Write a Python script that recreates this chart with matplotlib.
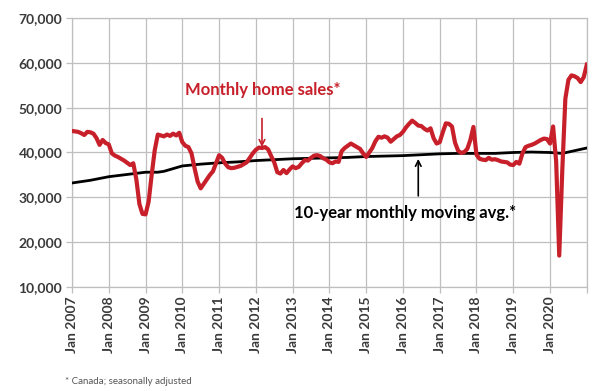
import matplotlib.pyplot as plt

# Monthly home sales (Canada, SA), Jan 2007 onwards, in thousands
sales = [44.8, 44.7, 44.6, 44.3, 43.9, 44.6, 44.5, 44.2, 43.2, 41.7, 42.8, 42.1,
         41.8, 39.8, 39.3, 39.0, 38.6, 38.2, 37.7, 37.2, 37.6, 34.0, 28.5, 26.3,
         26.2, 29.0, 35.0, 40.5, 44.0, 43.8, 43.6, 44.0, 43.7, 44.2, 43.8, 44.4,
         42.3, 41.5, 41.2, 39.8, 36.5, 33.5, 32.0, 33.0, 34.0, 35.0, 35.8, 37.6,
         39.4, 38.8, 37.5, 36.7, 36.5, 36.6, 36.8, 37.0, 37.4, 37.8, 38.8, 39.8,
         40.6, 41.1, 41.0, 41.2, 40.7, 39.2, 37.8, 35.6, 35.3, 36.1, 35.4, 36.2,
         36.9, 36.5, 36.8, 37.6, 38.3, 38.2, 38.8, 39.3, 39.4, 39.2, 38.7, 38.4,
         37.8, 37.6, 38.0, 37.9, 40.3, 41.0, 41.5, 42.0, 41.6, 41.2, 40.8, 39.8,
         39.0, 40.0, 41.0, 42.5, 43.5, 43.3, 43.6, 43.3, 42.4, 43.0, 43.6, 43.9,
         44.6, 45.6, 46.4, 47.1, 46.6, 46.0, 45.9, 45.3, 44.9, 45.4, 43.2, 42.0,
         42.3, 44.5, 46.5, 46.4, 45.8, 42.2, 40.4, 39.9, 40.1, 40.8, 42.8, 45.7,
         39.5, 38.6, 38.4, 38.3, 38.8, 38.4, 38.5, 38.3, 38.0, 37.9, 37.8, 37.3,
         37.2, 37.9, 37.5, 39.8, 41.2, 41.5, 41.7, 42.0, 42.4, 42.8, 43.1, 43.0,
         42.0, 45.8, 38.0, 17.0, 36.0, 52.0, 56.2, 57.2, 57.0, 56.6, 55.7, 56.8,
         59.6]

# 10-year monthly moving average, read at selected months
avg_months = [0, 6, 12, 18, 24, 28, 30, 36, 42, 48, 54, 60, 66, 72, 78, 84, 90,
              96, 102, 108, 114, 120, 126, 132, 138, 144, 150, 156, 160, 168]
avg_values = [33.2, 33.8, 34.6, 35.1, 35.6, 35.6, 35.8, 37.0, 37.4, 37.7, 37.9,
              38.2, 38.4, 38.6, 38.7, 38.8, 38.9, 39.1, 39.2, 39.3, 39.5, 39.7,
              39.8, 39.8, 39.8, 40.0, 40.1, 40.0, 39.8, 41.0]

years = list(range(2007, 2021))
tick_labels = ["Jan %d" % y for y in years]
y_ticks = [10000, 20000, 30000, 40000, 50000, 60000, 70000]

red = "#c8202a"
grid_col = "#bfbfbf"
label_col = "#3a3a3a"
font = "Lato"

fig = plt.figure(figsize=(6, 3.91), dpi=100)
ax = fig.add_axes([0.12, 0.266, 0.858, 0.688])

months = list(range(len(sales)))
ax.plot(avg_months, [v * 1000 for v in avg_values], color="black", lw=2, zorder=3)
ax.plot(months, [v * 1000 for v in sales], color=red, lw=3, zorder=4,
        solid_joinstyle="round")

ax.set_xlim(0, 168)
ax.set_ylim(10000, 70000)
ax.set_xticks([12 * i for i in range(len(years))] + [168])
ax.set_xticklabels(tick_labels + [""], rotation=90, fontsize=10,
                   fontweight="bold", family=font, color=label_col)
ax.set_yticks(y_ticks)
ax.set_yticklabels(["{:,}".format(v) for v in y_ticks], fontsize=10,
                   fontweight="bold", family=font, color=label_col)
ax.grid(True, color=grid_col, lw=0.9)
ax.set_axisbelow(True)
for s in ax.spines.values():
    s.set_color(grid_col)
    s.set_linewidth(0.9)
ax.tick_params(color=grid_col, length=4, width=0.9, pad=3)

# annotations
ax.text(36.8, 53900, "Monthly home sales*", color=red, fontsize=12,
        fontweight="bold", family=font, va="center", ha="left")
ax.annotate("", xy=(62.0, 40600), xytext=(62.0, 48200),
            arrowprops=dict(arrowstyle="->", color=red, lw=1.2))
ax.text(72.6, 26500, "10-year monthly moving avg.*", color="black", fontsize=12,
        fontweight="bold", family=font, va="center", ha="left")
ax.annotate("", xy=(113.0, 39200), xytext=(113.0, 29700),
            arrowprops=dict(arrowstyle="->", color="black", lw=1.2))

fig.text(65 / 600, 1 - 382 / 391, "* Canada; seasonally adjusted", fontsize=7,
         family=font, color="#555555", va="center", ha="left")

plt.savefig("out.png")
